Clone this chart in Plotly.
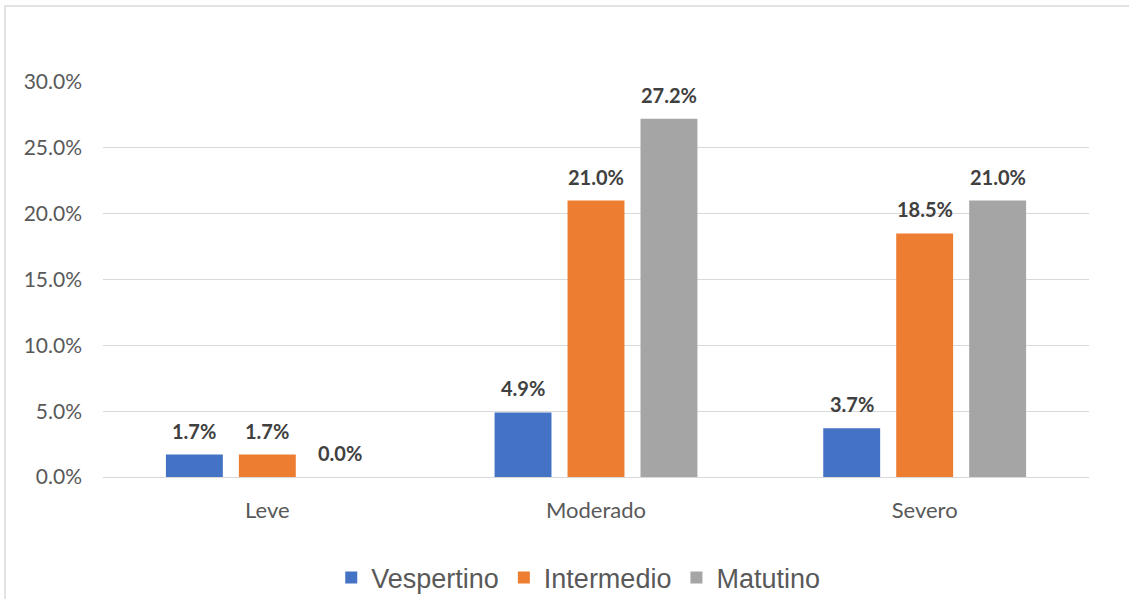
import plotly.graph_objects as go

# Severity categories and the share of each chronotype group
categories = ["Leve", "Moderado", "Severo"]
vespertino = [1.7, 4.9, 3.7]
intermedio = [1.7, 21.0, 18.5]
matutino = [0.0, 27.2, 21.0]
y_ticks = [0, 5, 10, 15, 20, 25, 30]
y_tick_labels = [f"{v:.1f}%" for v in y_ticks]

series = [
    ("Vespertino", vespertino, "#4472C4"),
    ("Intermedio", intermedio, "#ED7D31"),
    ("Matutino", matutino, "#A5A5A5"),
]

W, H = 1129, 599
ml, mr, mt, mb = 103, 40, 82, 122
pw, ph = W - ml - mr, H - mt - mb
BARGAP = 0.334
BARGROUPGAP = 0.22


def px_x(x):
    return (x - ml) / pw


def px_y(y):
    return (H - mb - y) / ph


fig = go.Figure()
for name, values, color in series:
    fig.add_trace(go.Bar(
        name=name,
        x=categories,
        y=values,
        marker=dict(color=color, line=dict(width=0)),
    ))

# Value labels centred over each bar, floating a little above its top
slot = pw / len(categories) * (1 - BARGAP) / len(series)
for i, (name, values, color) in enumerate(series):
    shift = (i - (len(series) - 1) / 2) * slot
    for cat, v in zip(categories, values):
        fig.add_annotation(
            x=cat,
            y=v,
            xref="x",
            yref="y",
            text=f"<b>{v:.1f}%</b>",
            showarrow=False,
            xshift=shift,
            yshift=24,
            yanchor="middle",
            font=dict(family="Lato", size=20, color="#404040"),
        )

fig.update_layout(
    width=W,
    height=H,
    margin=dict(l=ml, r=mr, t=mt, b=mb, autoexpand=False),
    paper_bgcolor="white",
    plot_bgcolor="white",
    barmode="group",
    bargap=BARGAP,
    bargroupgap=BARGROUPGAP,
    showlegend=True,
    legend=dict(
        orientation="h",
        x=0.482,
        xanchor="center",
        y=px_y(578),
        yanchor="middle",
        font=dict(family="Liberation Sans", size=27, color="#595959"),
        itemwidth=30,
    ),
    xaxis=dict(
        showgrid=False,
        showline=False,
        ticks="",
        ticklabelstandoff=18,
        tickfont=dict(family="Lato", size=22, color="#595959"),
    ),
    yaxis=dict(
        range=[0, 30],
        tickvals=y_ticks,
        ticktext=y_tick_labels,
        showgrid=True,
        gridcolor="#D9D9D9",
        gridwidth=1,
        zeroline=True,
        zerolinecolor="#D9D9D9",
        zerolinewidth=1,
        showline=False,
        ticks="",
        ticklabelstandoff=20,
        tickfont=dict(family="Lato", size=21, color="#595959"),
    ),
    shapes=[
        dict(
            type="rect",
            xref="paper",
            yref="paper",
            x0=px_x(5),
            x1=px_x(1140),
            y0=px_y(615),
            y1=px_y(6),
            line=dict(color="#D9D9D9", width=1.5),
            fillcolor="rgba(0,0,0,0)",
            layer="below",
        )
    ],
)

fig.write_html("out.html")
